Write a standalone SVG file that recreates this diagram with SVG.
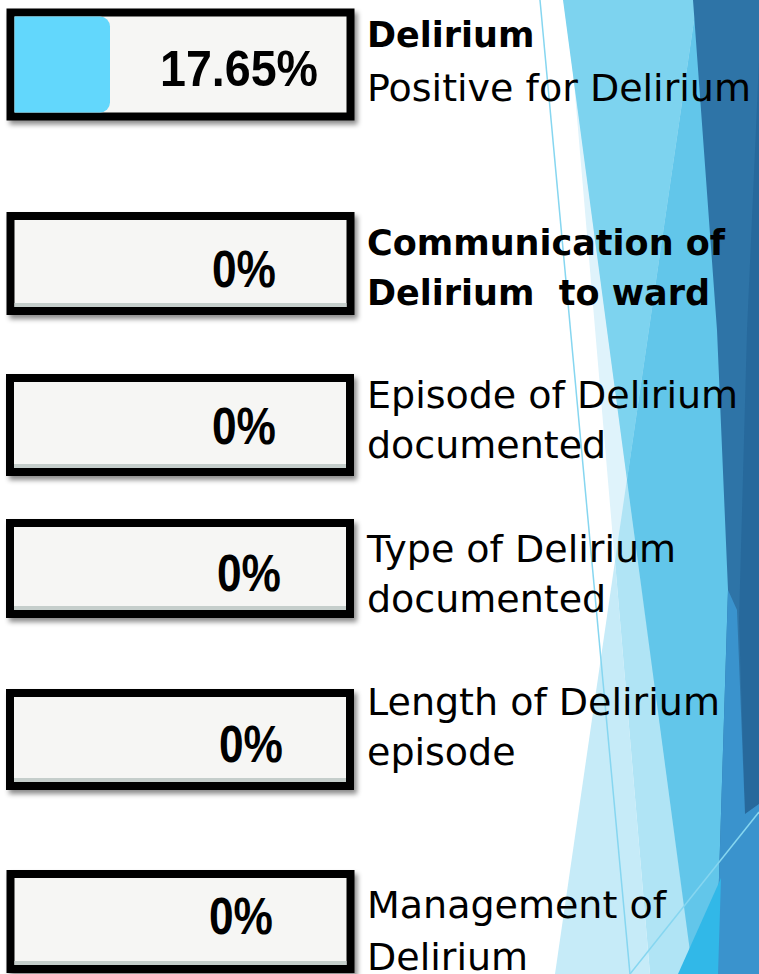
<svg xmlns="http://www.w3.org/2000/svg" width="759" height="974" viewBox="0 0 759 974">
<defs>
<style>
.box{fill:#f6f6f4;stroke:#000;stroke-width:8;filter:url(#sh)}
.band{fill:#c5cecb}
.pct{font-family:"Liberation Sans",Arial,sans-serif;font-weight:bold;font-size:50px;fill:#000}
.pct0{font-family:"Liberation Sans",Arial,sans-serif;font-weight:bold;font-size:51px;fill:#000}
.lbl{font-family:"DejaVu Sans",sans-serif;font-size:38px;fill:#000}
.lblb{font-family:"DejaVu Sans",sans-serif;font-size:35px;font-weight:bold;fill:#000;white-space:pre}
.thin{stroke:#86d6f0;stroke-width:1.5;fill:none}
</style>
<filter id="sh" x="-5%" y="-10%" width="115%" height="130%">
<feDropShadow dx="3" dy="4" stdDeviation="2.5" flood-color="#000" flood-opacity="0.45"/>
</filter>
</defs>
<rect width="759" height="974" fill="#fff"/>
<g id="background">
<polygon points="567,0 759,0 759,974 650,974" fill="#dff3fb"/>
<polygon points="697,0 759,0 759,974 650,974 615,561" fill="#b0e4f5"/>
<polygon points="615,561 555,974 650,974" fill="#c6ebf8"/>
<polygon points="563,0 697,0 627,480" fill="#7dd3ef"/>
<polygon points="697,0 759,0 759,974 693,974 627,480" fill="#62c6ea"/>
<polygon points="693,0 759,0 759,974 716,974 728,590 717,330" fill="#2e74a7"/>
<polygon points="759,60 747,330 739,620 745,814 759,804" fill="#27699c"/>
<polygon points="728,590 737,610 745,814 759,804 759,974 716,974" fill="#3a93cd"/>
<polygon points="678,974 721,878 718,974" fill="#31b8e8"/>
<line class="thin" x1="540" y1="0" x2="630" y2="974"/>
<line class="thin" x1="630" y1="974" x2="759" y2="812"/>
</g>
<g id="node1">
<rect class="box" x="10.5" y="12.5" width="340" height="104"/>
<path d="M14.5 16.5 H100 A10 10 0 0 1 110 26.5 V102.5 A10 10 0 0 1 100 112.5 H14.5 Z" fill="#62d7fc"/>
<text class="pct" x="160" y="86" textLength="158" lengthAdjust="spacingAndGlyphs">17.65%</text>
<text class="lblb" x="367" y="47">Delirium</text>
<text class="lbl" x="367" y="101">Positive for Delirium</text>
</g>
<g id="node2">
<rect class="box" x="10.5" y="216" width="340" height="95"/>
<rect class="band" x="14.5" y="303" width="332" height="4"/>
<text class="pct0" x="212" y="287" textLength="64" lengthAdjust="spacingAndGlyphs">0%</text>
<text class="lblb" x="367" y="255">Communication of</text>
<text class="lblb" x="367" y="305">Delirium  to ward</text>
</g>
<g id="node3">
<rect class="box" x="10" y="378" width="340" height="94"/>
<rect class="band" x="14" y="464" width="332" height="4"/>
<text class="pct0" x="212" y="444" textLength="64" lengthAdjust="spacingAndGlyphs">0%</text>
<text class="lbl" x="367" y="408">Episode of Delirium</text>
<text class="lbl" x="367" y="458">documented</text>
</g>
<g id="node4">
<rect class="box" x="10" y="523" width="340" height="91"/>
<rect class="band" x="14" y="606" width="332" height="4"/>
<text class="pct0" x="217" y="591" textLength="64" lengthAdjust="spacingAndGlyphs">0%</text>
<text class="lbl" x="367" y="562">Type of Delirium</text>
<text class="lbl" x="367" y="612">documented</text>
</g>
<g id="node5">
<rect class="box" x="10" y="693" width="340" height="93"/>
<rect class="band" x="14" y="778" width="332" height="4"/>
<text class="pct0" x="219" y="762" textLength="64" lengthAdjust="spacingAndGlyphs">0%</text>
<text class="lbl" x="367" y="715">Length of Delirium</text>
<text class="lbl" x="367" y="765">episode</text>
</g>
<g id="node6">
<rect class="box" x="10.5" y="874" width="340" height="95"/>
<rect class="band" x="14.5" y="961" width="332" height="4"/>
<text class="pct0" x="209" y="934" textLength="64" lengthAdjust="spacingAndGlyphs">0%</text>
<text class="lbl" x="367" y="918">Management of</text>
<text class="lbl" x="367" y="970">Delirium</text>
</g>
<g id="connectors"></g>
</svg>
